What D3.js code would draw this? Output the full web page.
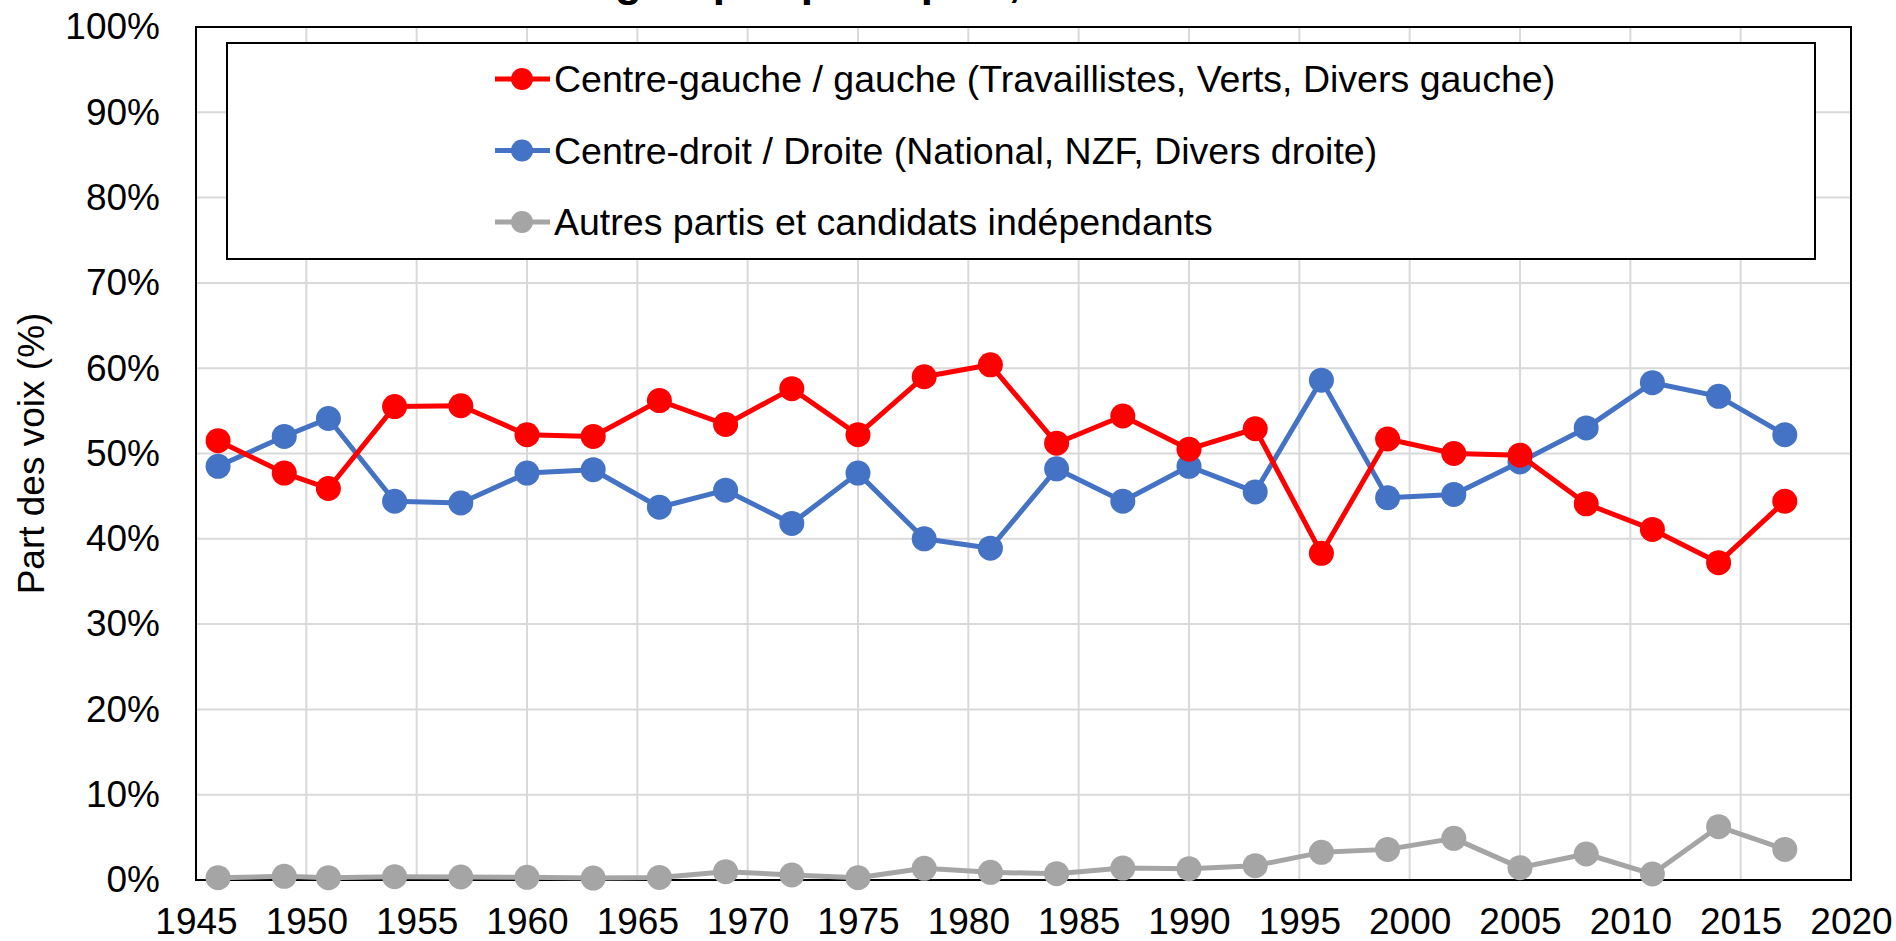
<!DOCTYPE html>
<html>
<head>
<meta charset="utf-8">
<script src="https://cdn.jsdelivr.net/npm/d3@7"></script>
<style>
  body { margin: 0; background: #fff; }
  svg { display: block; font-family: "Liberation Sans", Arial, sans-serif; }
  .grid line { stroke: #d9d9d9; stroke-width: 2; }
  .axis path, .axis line { display: none; }
  .axis text { font-size: 37px; fill: #000; }
</style>
</head>
<body>
<svg class="chart"></svg>
<script>
var width = 1896, height = 941;
var margin = {top: 27, right: 45, bottom: 61, left: 196};

var years = [1946, 1949, 1951, 1954, 1957, 1960, 1963, 1966, 1969, 1972, 1975, 1978, 1981,
             1984, 1987, 1990, 1993, 1996, 1999, 2002, 2005, 2008, 2011, 2014, 2017];
var gauche = [51.5, 47.7, 45.9, 55.5, 55.6, 52.2, 52.0, 56.2, 53.4, 57.6, 52.2, 59.0, 60.4,
              51.2, 54.4, 50.5, 52.9, 38.3, 51.7, 50.0, 49.8, 44.1, 41.1, 37.2, 44.4];
var droite = [48.5, 52.0, 54.1, 44.4, 44.2, 47.7, 48.1, 43.7, 45.7, 41.8, 47.7, 40.0, 38.9,
              48.2, 44.4, 48.5, 45.5, 58.6, 44.8, 45.2, 49.0, 53.0, 58.3, 56.7, 52.2];
var autres = [0.27, 0.43, 0.27, 0.39, 0.35, 0.31, 0.23, 0.3, 0.98, 0.59, 0.27, 1.37, 0.9,
              0.74, 1.4, 1.33, 1.68, 3.24, 3.59, 4.88, 1.45, 3.05, 0.7, 6.25, 3.59];
var seriesNames = ["Centre-gauche / gauche (Travaillistes, Verts, Divers gauche)",
                   "Centre-droit / Droite (National, NZF, Divers droite)",
                   "Autres partis et candidats indépendants"];
var seriesColours = ["#ff0000", "#4472c4", "#a5a5a5"];
var xTicks = d3.range(1945, 2021, 5);
var yTicks = d3.range(0, 1.01, 0.1);

var series = [gauche, droite, autres].map(function(vals, i) {
  return {
    name: seriesNames[i],
    colour: seriesColours[i],
    values: years.map(function(yr, j) { return {year: yr, v: vals[j] / 100}; })
  };
});

var xScale = d3.scaleLinear()
    .domain([1945, 2020])
    .range([margin.left, width - margin.right]);

var yScale = d3.scaleLinear()
    .domain([0, 1])
    .range([height - margin.bottom, margin.top]);

var chart = d3.select(".chart")
    .attr("width", width)
    .attr("height", height);

// title, cut off at the top of the picture (only descenders show)
chart.append("text")
    .attr("x", 603)
    .attr("y", -4)
    .attr("text-anchor", "end")
    .style("font-size", "44px")
    .style("font-weight", "bold")
    .text("Évolution du vote entre les deux");
chart.append("text")
    .attr("x", 615)
    .attr("y", -4)
    .style("font-size", "44px")
    .style("font-weight", "bold")
    .text("groupes politiques, Nouvelle-Zélande 1946-2017");

// gridlines
var grid = chart.append("g").attr("class", "grid");
grid.selectAll(".gx")
    .data(xTicks)
  .enter().append("line")
    .attr("x1", function(d) { return xScale(d); })
    .attr("x2", function(d) { return xScale(d); })
    .attr("y1", yScale(0))
    .attr("y2", yScale(1));
grid.selectAll(".gy")
    .data(yTicks)
  .enter().append("line")
    .attr("x1", xScale(1945))
    .attr("x2", xScale(2020))
    .attr("y1", function(d) { return yScale(d); })
    .attr("y2", function(d) { return yScale(d); });

chart.append("rect")
    .attr("x", xScale(1945))
    .attr("y", yScale(1))
    .attr("width", xScale(2020) - xScale(1945))
    .attr("height", yScale(0) - yScale(1))
    .attr("fill", "none")
    .attr("stroke", "#000")
    .attr("stroke-width", 2);

// axes
chart.append("g")
    .attr("class", "x axis")
    .attr("transform", "translate(0," + (yScale(0) + 25) + ")")
    .call(d3.axisBottom(xScale).tickValues(xTicks).tickFormat(d3.format("d")).tickSize(0))
  .selectAll("text")
    .attr("dy", "0.71em");

chart.append("g")
    .attr("class", "y axis")
    .attr("transform", "translate(" + (xScale(1945) - 33) + ",0)")
    .call(d3.axisLeft(yScale).tickValues(yTicks).tickFormat(d3.format(".0%")).tickSize(0));

chart.append("text")
    .attr("transform", "translate(44," + yScale(0.5) + ") rotate(-90)")
    .attr("text-anchor", "middle")
    .style("font-size", "37px")
    .text("Part des voix (%)");

// legend
var legendBox = {x: 227, y: 43, w: 1588, h: 216};
chart.append("rect")
    .attr("x", legendBox.x)
    .attr("y", legendBox.y)
    .attr("width", legendBox.w)
    .attr("height", legendBox.h)
    .attr("fill", "#fff")
    .attr("stroke", "#000")
    .attr("stroke-width", 2);

var legend = chart.selectAll(".legend")
    .data(series)
  .enter().append("g")
    .attr("class", "legend")
    .attr("transform", function(d, i) { return "translate(0," + (79 + i * 71.5) + ")"; });

legend.append("line")
    .attr("x1", 495)
    .attr("x2", 550)
    .attr("stroke", function(d) { return d.colour; })
    .attr("stroke-width", 5);

legend.append("circle")
    .attr("cx", 522)
    .attr("r", 11)
    .attr("fill", function(d) { return d.colour; });

legend.append("text")
    .attr("x", 554)
    .attr("dy", "0.35em")
    .style("font-size", "37.5px")
    .text(function(d) { return d.name; });

// series
var line = d3.line()
    .x(function(d) { return xScale(d.year); })
    .y(function(d) { return yScale(d.v); });

var groups = chart.selectAll(".series")
    .data(series.slice().reverse())
  .enter().append("g")
    .attr("class", "series");

groups.append("path")
    .attr("d", function(d) { return line(d.values); })
    .attr("fill", "none")
    .attr("stroke", function(d) { return d.colour; })
    .attr("stroke-width", 5)
    .attr("stroke-linejoin", "round");

groups.selectAll(".dot")
    .data(function(d) { return d.values.map(function(p) { return {p: p, colour: d.colour}; }); })
  .enter().append("circle")
    .attr("class", "dot")
    .attr("cx", function(d) { return xScale(d.p.year); })
    .attr("cy", function(d) { return yScale(d.p.v); })
    .attr("r", 12.5)
    .attr("fill", function(d) { return d.colour; });
</script>
</body>
</html>
